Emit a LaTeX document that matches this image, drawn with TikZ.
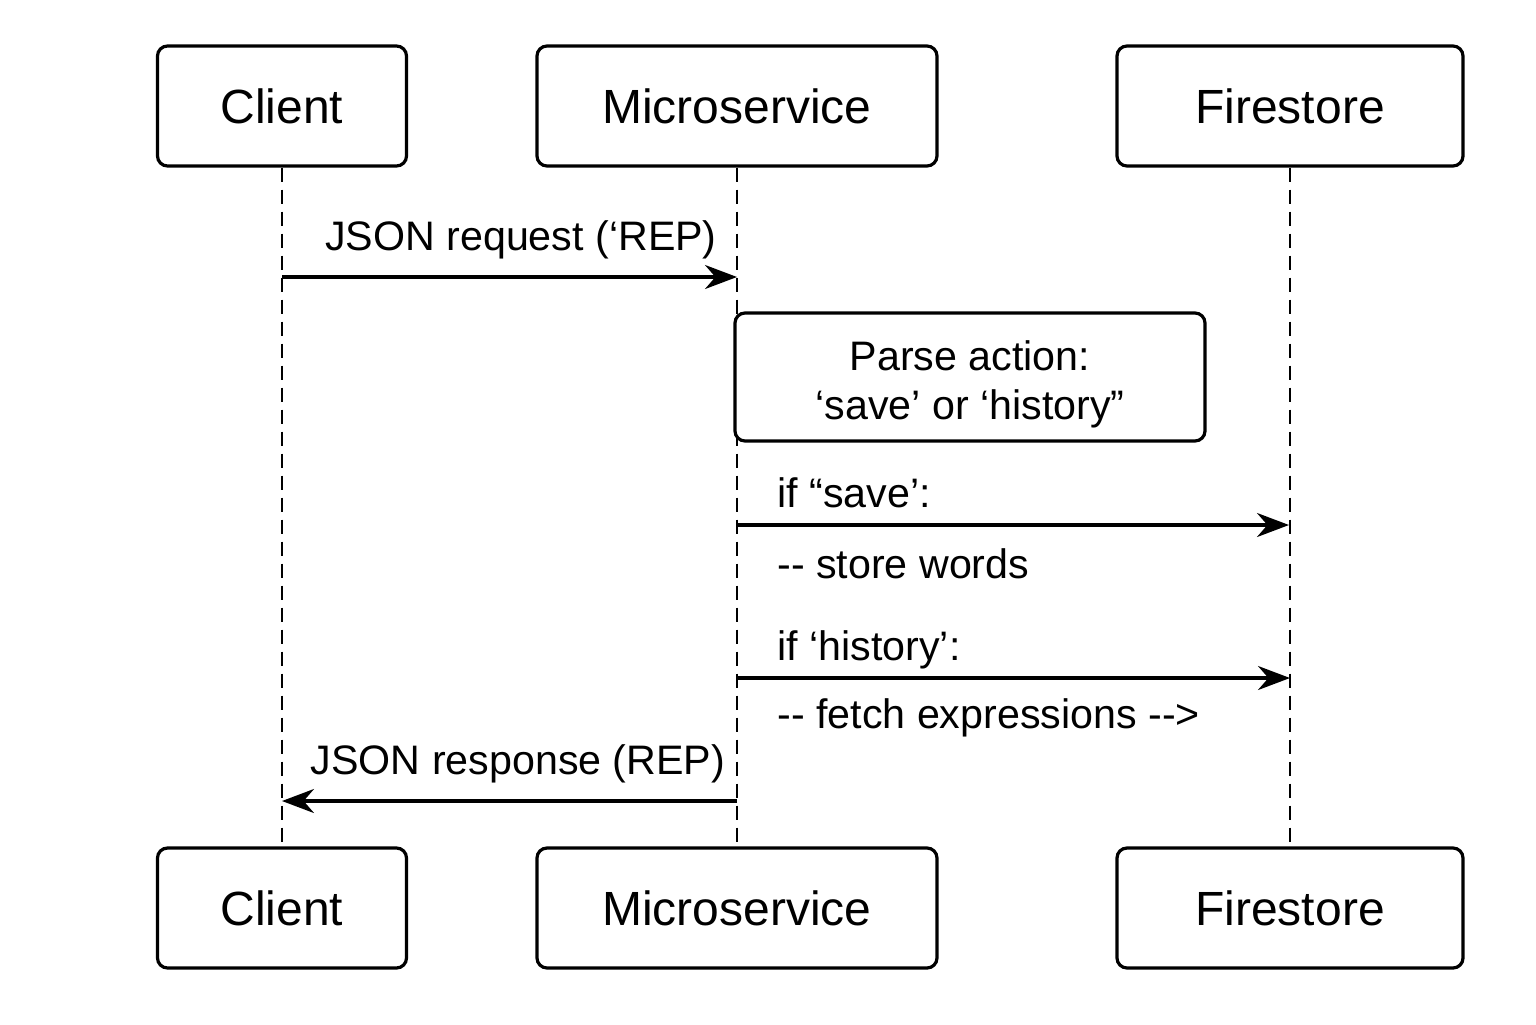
\documentclass[tikz,border=0pt]{standalone}
\usepackage{fontspec}
\setmainfont{Liberation Sans}
\usetikzlibrary{arrows.meta}
\begin{document}
\begin{tikzpicture}[x=0.5pt,y=-0.5pt,
  actor/.style={draw, line width=1.6pt, rounded corners=5pt, minimum height=60pt,
    inner sep=0pt, fill=white, font=\fontsize{24}{28}\selectfont},
  procbox/.style={draw, line width=1.6pt, rounded corners=5pt, minimum width=235pt,
    minimum height=64pt, inner sep=0pt, fill=white, align=center,
    font=\fontsize{20.6}{24.5}\selectfont},
  lifeline/.style={line width=1.4pt, dash pattern=on 7pt off 4pt},
  msg/.style={line width=1.6pt, -{Stealth[length=16pt,width=12pt]}},
  msglabel/.style={inner sep=0pt, font=\fontsize{20.6}{24}\selectfont}]
\useasboundingbox (0,0) rectangle (1536,1024);
\fill[white] (0,0) rectangle (1536,1024);

% actor boxes
\node[actor, minimum width=124.5pt] (cT) at (282,106) {Client};
\node[actor, minimum width=200pt] (mT) at (737,106) {Microservice};
\node[actor, minimum width=173pt] (fT) at (1290,106) {Firestore};
\node[actor, minimum width=124.5pt] (cB) at (282,908) {Client};
\node[actor, minimum width=200pt] (mB) at (737,908) {Microservice};
\node[actor, minimum width=173pt] (fB) at (1290,908) {Firestore};

% lifelines
\draw[lifeline] (cT.south) -- (cB.north);
\draw[lifeline] (mT.south) -- (mB.north);
\draw[lifeline] (fT.south) -- (fB.north);

% message points
\coordinate (c1) at (282,277);
\coordinate (m1) at (737,277);
\coordinate (m2) at (737,525);
\coordinate (f2) at (1289,525);
\coordinate (m3) at (737,678);
\coordinate (f3) at (1290,678);
\coordinate (m4) at (737,801);
\coordinate (c4) at (282,801);

% parse box
\node[procbox] (parse) at (970,377) {\rule{0pt}{22pt}Parse action:\\‘save’ or ‘history”};

% messages
\draw[msg] (c1) -- (m1);
\node[msglabel, anchor=base] (l1) at (521,250) {JSON request (‘REP)};

\draw[msg] (m2) -- (f2);
\node[msglabel, anchor=base west] (l2) at (777,507) {if “save’:};
\node[msglabel, anchor=base west] (l3) at (777,578) {-{}- store words};

\draw[msg] (m3) -- (f3);
\node[msglabel, anchor=base west] (l4) at (777,660) {if ‘history’:};
\node[msglabel, anchor=base west] (l5) at (777,728) {-{}- fetch expressions -{}->};

\draw[msg] (m4) -- (c4);
\node[msglabel, anchor=base] (l6) at (518,774) {JSON response (REP)};
\end{tikzpicture}
\end{document}
